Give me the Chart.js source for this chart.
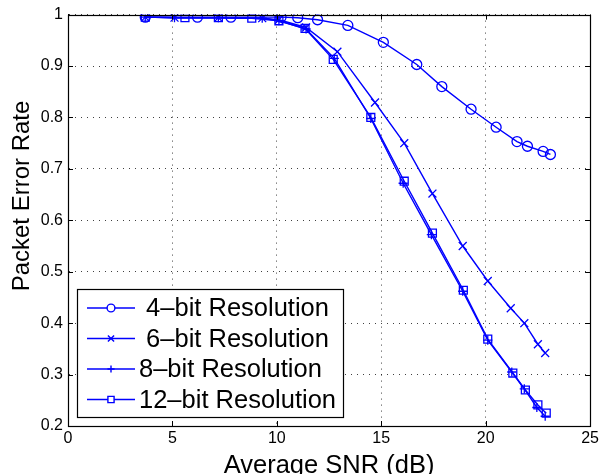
<!DOCTYPE html>
<html><head><meta charset="utf-8">
<script src="https://cdn.jsdelivr.net/npm/chart.js@4/dist/chart.umd.min.js"></script>
<style>html,body{margin:0;padding:0;background:#fff}#wrap{width:602px;height:474px;position:relative}</style>
</head><body><div id="wrap"><canvas id="c"></canvas></div>
<script>
const seriesLabels = [" 4\u2013bit Resolution", " 6\u2013bit Resolution", "8\u2013bit Resolution", "12\u2013bit Resolution"];
const xTitle = 'Average SNR (dB)';
const yTitle = 'Packet Error Rate';
const xTickValues = [0, 5, 10, 15, 20, 25];
const yTickValues = [0.2, 0.3, 0.4, 0.5, 0.6, 0.7, 0.8, 0.9, 1];
const snr4 = [3.7, 6.2, 7.8, 10.2, 11.0, 11.95, 13.4, 15.1, 16.7, 17.9, 19.3, 20.5, 21.5, 22.0, 22.75, 23.1];
const per4 = [0.995, 0.995, 0.995, 0.995, 0.994, 0.990, 0.979, 0.946, 0.903, 0.860, 0.816, 0.781, 0.753, 0.744, 0.734, 0.728];
const snr6 = [3.7, 5.1, 7.2, 9.3, 10.1, 11.4, 12.9, 14.7, 16.1, 17.45, 18.9, 20.1, 21.2, 21.85, 22.5, 22.85];
const per6 = [0.995, 0.994, 0.994, 0.993, 0.990, 0.975, 0.928, 0.829, 0.750, 0.652, 0.550, 0.482, 0.429, 0.400, 0.359, 0.342];
const snr8 = [3.7, 5.1, 7.2, 9.3, 10.1, 11.4, 12.75, 14.5, 16.05, 17.4, 18.9, 20.1, 21.25, 21.85, 22.45, 22.85];
const per8 = [0.995, 0.994, 0.994, 0.993, 0.988, 0.972, 0.915, 0.798, 0.672, 0.572, 0.462, 0.367, 0.305, 0.272, 0.236, 0.219];
const snr12 = [3.7, 5.6, 7.2, 8.8, 10.1, 11.35, 12.7, 14.5, 16.1, 17.45, 18.93, 20.1, 21.3, 21.9, 22.5, 22.9];
const per12 = [0.995, 0.994, 0.994, 0.993, 0.988, 0.973, 0.913, 0.800, 0.676, 0.575, 0.464, 0.369, 0.303, 0.270, 0.241, 0.225];

const BLUE = '#0000ff';
const FONT = "'Liberation Sans', Arial, Helvetica, sans-serif";
const pairs = (xs, ys) => xs.map((x, i) => ({x: x, y: ys[i]}));
const styles = [
  {pointStyle: 'circle', radius: 5},
  {pointStyle: 'crossRot', radius: 5.6},
  {pointStyle: 'cross', radius: 4.6},
  {pointStyle: 'rect', radius: 5.6}
];
const xsAll = [snr4, snr6, snr8, snr12];
const ysAll = [per4, per6, per8, per12];
const datasets = seriesLabels.map((lab, i) => ({
  label: lab,
  data: pairs(xsAll[i], ysAll[i]),
  borderColor: BLUE,
  backgroundColor: 'rgba(0,0,0,0)',
  borderWidth: 1.4,
  pointStyle: styles[i].pointStyle,
  pointRadius: styles[i].radius,
  pointBorderWidth: 1.3,
  pointBorderColor: BLUE,
  pointBackgroundColor: 'rgba(0,0,0,0)',
  fill: false,
  tension: 0
}));

const boxAndTicks = {
  id: 'boxAndTicks',
  afterDatasetsDraw(chart) {
    const ctx = chart.ctx, a = chart.chartArea;
    const xs = chart.scales.x, ys = chart.scales.y;
    ctx.save();
    ctx.strokeStyle = '#000';
    ctx.lineWidth = 1;
    ctx.setLineDash([]);
    ctx.beginPath();
    const L = 5;
    xTickValues.forEach(v => {
      const px = Math.round(xs.getPixelForValue(v)) + 0.5;
      ctx.moveTo(px, a.bottom); ctx.lineTo(px, a.bottom - L);
      ctx.moveTo(px, a.top); ctx.lineTo(px, a.top + L);
    });
    yTickValues.forEach(v => {
      const py = Math.round(ys.getPixelForValue(v)) + 0.5;
      ctx.moveTo(a.left, py); ctx.lineTo(a.left + L, py);
      ctx.moveTo(a.right, py); ctx.lineTo(a.right - L, py);
    });
    ctx.stroke();
    ctx.lineWidth = 1.2;
    ctx.strokeRect(Math.round(a.left) + 0.5, Math.round(a.top) + 0.5, Math.round(a.right - a.left), Math.round(a.bottom - a.top));
    ctx.restore();
  },
  afterDraw(chart) {
    const ctx = chart.ctx;
    // y-axis title
    ctx.save();
    ctx.translate(22, 196);
    ctx.rotate(-Math.PI / 2);
    ctx.fillStyle = '#000';
    ctx.font = '24px ' + FONT;
    ctx.textAlign = 'center';
    ctx.textBaseline = 'middle';
    ctx.fillText(yTitle, 0, 0);
    ctx.restore();
    // legend
    const bx = 77, by = 289, bw = 266, bh = 128;
    ctx.save();
    ctx.fillStyle = '#fff';
    ctx.fillRect(bx, by, bw, bh);
    ctx.strokeStyle = '#000';
    ctx.lineWidth = 1.2;
    ctx.strokeRect(bx + 0.5, by + 0.5, bw, bh);
    const rowY = [308, 338.5, 369, 399.5];
    chart.data.datasets.forEach((ds, i) => {
      const y = rowY[i];
      ctx.strokeStyle = BLUE;
      ctx.lineWidth = 1.4;
      ctx.beginPath();
      ctx.moveTo(87, y); ctx.lineTo(135, y);
      ctx.stroke();
      const opts = {pointStyle: ds.pointStyle, radius: ds.pointRadius * 0.78, rotation: 0, borderWidth: 1.2};
      ctx.fillStyle = '#fff';
      if (Chart.helpers && Chart.helpers.drawPoint) {
        ctx.strokeStyle = BLUE;
        Chart.helpers.drawPoint(ctx, opts, 111, y);
      }
      ctx.fillStyle = '#000';
      ctx.font = '25.5px ' + FONT;
      ctx.textAlign = 'left';
      ctx.textBaseline = 'middle';
      ctx.fillText(ds.label, 139, y + 1);
    });
    ctx.restore();
  }
};

new Chart(document.getElementById('c'), {
  type: 'line',
  data: {datasets: datasets},
  options: {
    responsive: true,
    maintainAspectRatio: false,
    animation: false,
    devicePixelRatio: 1,
    layout: {padding: {top: 14, right: 11, left: 0, bottom: 0}},
    plugins: {legend: {display: false}, tooltip: {enabled: false}},
    scales: {
      x: {
        type: 'linear', min: 0, max: 25,
        afterFit: s => { s.height = 48; },
        afterBuildTicks: s => { s.ticks = xTickValues.map(v => ({value: v})); },
        ticks: {color: '#000', font: {family: FONT, size: 16}, padding: 3, maxRotation: 0, callback: v => String(v)},
        grid: {color: 'rgba(0,0,0,0.75)', lineWidth: 1, drawTicks: false},
        border: {display: true, color: '#000', width: 1, dash: [1, 5]},
        title: {display: true, text: xTitle, color: '#000', font: {family: FONT, size: 25.5, lineHeight: 0.6}, padding: {top: 0, bottom: 0}}
      },
      y: {
        type: 'linear', min: 0.2, max: 1,
        afterFit: s => { s.width = 68; },
        afterBuildTicks: s => { s.ticks = yTickValues.map(v => ({value: v})); },
        ticks: {color: '#000', font: {family: FONT, size: 16}, padding: 5, callback: v => String(+(+v).toFixed(1))},
        grid: {color: 'rgba(0,0,0,0.75)', lineWidth: 1, drawTicks: false},
        border: {display: true, color: '#000', width: 1, dash: [1, 5]},
        title: {display: false}
      }
    }
  },
  plugins: [boxAndTicks]
});
</script>
</body></html>
